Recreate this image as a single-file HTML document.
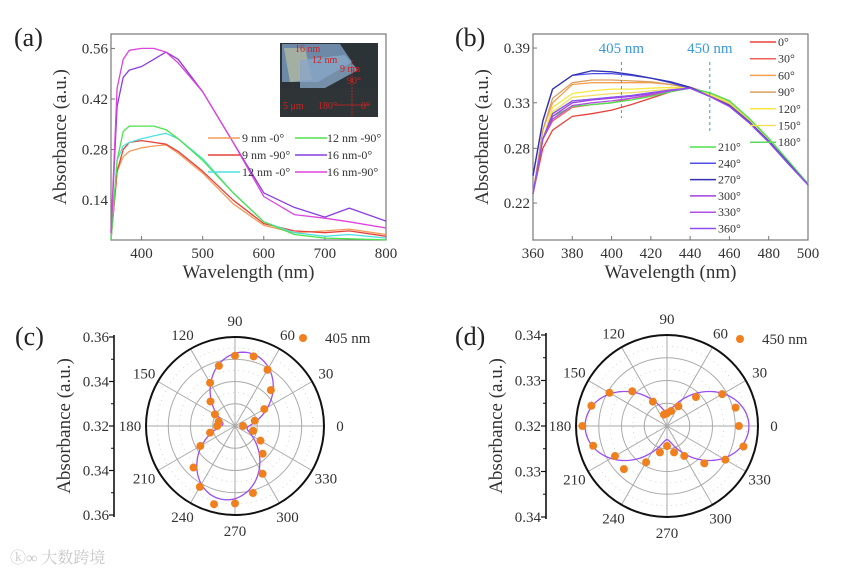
<!DOCTYPE html>
<html><head><meta charset="utf-8">
<style>
html,body{margin:0;padding:0;background:#fff;}
svg text{font-family:"Liberation Serif","Noto Serif CJK SC",serif;}
</style></head>
<body>
<svg id="fig" width="865" height="575" viewBox="0 0 865 575" xmlns="http://www.w3.org/2000/svg">
<rect width="865" height="575" fill="#fff"/>
<g id="pa"></g>
<g id="pb"></g>
<g id="pc"></g>
<g id="pd"></g>
<text x="10" y="563" font-size="16" fill="#c8c8c8" font-family="Liberation Sans, Noto Sans CJK SC, sans-serif">ⓚ∞ 大数跨境</text>
</svg>
<script>
// ---------- Panel (a) data ----------
const aNames = ["9 nm -0°","9 nm -90°","12 nm -0°","12 nm -90°","16 nm-0°","16 nm-90°"];
const aColors = ["#f39a5a","#e8403a","#4fe0e0","#4ee24e","#8a3ce0","#dd44dd"];
const aX = [350,360,370,380,400,420,440,460,500,550,600,650,700,740,800];
const a9_0  = [0.03,0.22,0.26,0.275,0.285,0.29,0.293,0.27,0.215,0.13,0.07,0.05,0.055,0.06,0.045];
const a9_90 = [0.03,0.22,0.28,0.30,0.305,0.30,0.295,0.275,0.22,0.14,0.075,0.055,0.05,0.055,0.04];
const a12_0 = [0.03,0.25,0.29,0.30,0.31,0.318,0.325,0.31,0.255,0.16,0.08,0.05,0.04,0.045,0.035];
const a12_90= [0.03,0.25,0.33,0.345,0.345,0.345,0.335,0.31,0.25,0.16,0.08,0.045,0.035,0.033,0.03];
const a16_0 = [0.05,0.40,0.48,0.50,0.51,0.53,0.55,0.53,0.44,0.30,0.16,0.12,0.093,0.118,0.082];
const a16_90= [0.05,0.45,0.53,0.555,0.56,0.56,0.55,0.52,0.44,0.30,0.15,0.10,0.09,0.08,0.063];
const aTicksX = [400,500,600,700,800];
const aTicksY = [0.14,0.28,0.42,0.56];

// ---------- Panel (b) data ----------
const bAngles = ["0°","30°","60°","90°","120°","150°","180°","210°","240°","270°","300°","330°","360°"];
const bColors = ["#e8403a","#f0605a","#f5a050","#d9a060","#f5e840","#f0e060","#60d860","#50e050","#5050e8","#3030b0","#a040e0","#b050e0","#9050f0"];
const bX = [360,365,370,380,390,400,410,420,430,440,450,460,470,480,490,500];
const b0   = [0.23,0.28,0.30,0.315,0.318,0.322,0.328,0.335,0.342,0.347,0.340,0.330,0.310,0.290,0.265,0.240];
const b30  = [0.23,0.29,0.31,0.325,0.328,0.330,0.335,0.338,0.343,0.347,0.340,0.330,0.310,0.290,0.265,0.240];
const b60  = [0.23,0.30,0.33,0.350,0.352,0.352,0.352,0.352,0.350,0.346,0.338,0.328,0.310,0.290,0.265,0.241];
const b90  = [0.23,0.30,0.335,0.352,0.355,0.355,0.354,0.353,0.350,0.346,0.338,0.328,0.310,0.290,0.265,0.241];
const b120 = [0.23,0.29,0.325,0.340,0.343,0.345,0.345,0.346,0.347,0.346,0.339,0.330,0.312,0.290,0.266,0.241];
const b150 = [0.23,0.29,0.32,0.336,0.338,0.340,0.341,0.343,0.345,0.346,0.340,0.331,0.312,0.290,0.266,0.241];
const b180 = [0.23,0.29,0.318,0.332,0.334,0.336,0.338,0.340,0.343,0.346,0.341,0.332,0.313,0.291,0.266,0.241];
const b210 = [0.23,0.29,0.315,0.326,0.328,0.330,0.333,0.337,0.342,0.346,0.341,0.332,0.313,0.291,0.266,0.241];
const b240 = [0.25,0.31,0.345,0.360,0.362,0.362,0.360,0.357,0.352,0.346,0.337,0.327,0.309,0.288,0.264,0.240];
const b270 = [0.25,0.31,0.345,0.360,0.365,0.364,0.361,0.357,0.353,0.347,0.337,0.327,0.309,0.288,0.264,0.240];
const b300 = [0.23,0.29,0.315,0.330,0.333,0.335,0.337,0.340,0.344,0.346,0.337,0.326,0.308,0.287,0.263,0.240];
const b330 = [0.23,0.29,0.312,0.327,0.330,0.332,0.335,0.339,0.343,0.346,0.337,0.326,0.308,0.287,0.263,0.240];
const b360 = [0.23,0.29,0.318,0.332,0.334,0.336,0.338,0.341,0.344,0.346,0.337,0.326,0.308,0.287,0.263,0.240];
const bTicksX = [360,380,400,420,440,460,480,500];
const bTicksY = [0.22,0.28,0.33,0.39];
const bMarks = [405,450];

// ---------- Panel (c) data ----------
const cAngles = [0,15,30,45,60,75,90,105,120,135,150,165,180,195,210,225,240,255,270,285,300,315,330,345];
const cValues = [0.3236,0.3292,0.3352,0.3428,0.3492,0.3524,0.3516,0.3480,0.3424,0.3356,0.3304,0.3276,0.3280,0.3316,0.3380,0.3464,0.3516,0.3564,0.3548,0.3512,0.3448,0.3376,0.3332,0.3284];
const cFit = [0.3255,0.0280,80]; // offset, amplitude, phase(deg)
const cTickLabels = ["0.36","0.34","0.32","0.34","0.36"];

// ---------- Panel (d) data ----------
const dAngles = [0,15,30,45,60,75,90,105,120,135,150,165,180,195,210,225,240,255,270,285,300,315,330,345];
const dValues = [0.3358,0.3356,0.3340,0.3290,0.3250,0.3234,0.3228,0.3226,0.3262,0.3308,0.3346,0.3372,0.3386,0.3368,0.3332,0.3334,0.3292,0.3260,0.3244,0.3260,0.3276,0.3316,0.3348,0.3374];
const dFit = [0.3230,0.0150,0];
const dTickLabels = ["0.34","0.33","0.32","0.33","0.34"];

const NS="http://www.w3.org/2000/svg";
function el(parent,tag,attrs,text){const e=document.createElementNS(NS,tag);for(const k in attrs)e.setAttribute(k,attrs[k]);if(text!==undefined)e.textContent=text;parent.appendChild(e);return e;}

function linePanel(g,box,xDom,yDom,xTicks,yTicks){
  const sx=v=>box.x0+(v-xDom[0])/(xDom[1]-xDom[0])*(box.x1-box.x0);
  const sy=v=>box.y1-(v-yDom[0])/(yDom[1]-yDom[0])*(box.y1-box.y0);
  const fr=el(g,'rect',{x:box.x0,y:box.y0,width:box.x1-box.x0,height:box.y1-box.y0,fill:'none',stroke:'#777','stroke-width':1.2});
  
  
  xTicks.forEach(t=>{
    const x=sx(t);
    el(g,'line',{x1:x,x2:x,y1:box.y1,y2:box.y1-4,stroke:'#777'});
    const tx=el(g,'text',{x:x,y:box.y1+18,'font-size':15,'text-anchor':'middle',fill:'#333'},String(t));
    
    
  });
  yTicks.forEach(t=>{
    const y=sy(t);
    el(g,'line',{x1:box.x0,x2:box.x0+4,y1:y,y2:y,stroke:'#777'});
    const tx=el(g,'text',{x:box.x0-3,y:y+5,'font-size':15,'text-anchor':'end',fill:'#333'},t.toFixed(2));
    
    
  });
  const xt=el(g,'text',{x:(box.x0+box.x1)/2,y:box.y1+38,'font-size':19,'text-anchor':'middle',fill:'#333'},'Wavelength (nm)');
  
  
  const cy=(box.y0+box.y1)/2;
  const yt=el(g,'text',{x:box.x0-45,y:cy,'font-size':19,'text-anchor':'middle',fill:'#333',transform:`rotate(-90 ${box.x0-45} ${cy})`},'Absorbance (a.u.)');
  
  
  return {sx,sy};
}
function drawSeries(g,s,xs,ys,color,name){
  const d=xs.map((x,i)=>(i?'L':'M')+s.sx(x).toFixed(1)+','+s.sy(ys[i]).toFixed(1)).join(' ');
  const p=el(g,'path',{d:d,fill:'none',stroke:color,'stroke-width':1.3,'stroke-linejoin':'round'});
  
  
}

(function(){
  const g=document.getElementById('pa');
  const lab=el(g,'text',{x:14,y:46,'font-size':26,fill:'#222'},'(a)');
  
  
  const s=linePanel(g,{x0:111,x1:386,y0:34,y1:240},[350,800],[0.0297,0.6],aTicksX,aTicksY);
  const series=[a9_0,a9_90,a12_0,a12_90,a16_0,a16_90];
  series.forEach((ys,i)=>drawSeries(g,s,aX,ys,aColors[i],'line-'+aNames[i].replace(/[^0-9a-z]+/gi,'-')));
  const ins=el(g,'g',{});
  
  
  el(ins,'rect',{x:280,y:43,width:98,height:74,fill:'#2b3336'});
  el(ins,'polygon',{points:'282,44 340,44 352,62 318,82 282,82',fill:'#6c8aa8'});
  el(ins,'polygon',{points:'284,48 305,48 312,80 290,82',fill:'#c9c8a0',opacity:0.6});
  el(ins,'polygon',{points:'300,60 345,55 358,70 325,88 300,88',fill:'#8aa6c6',opacity:0.8});
  el(ins,'rect',{x:280,y:88,width:98,height:29,fill:'#2f3537'});
  const it=[['16 nm',295,52],['12 nm',312,63],['9 nm',340,72],['90°',347,84],['5 μm',283,109],['180°',318,109],['0°',361,109]];
  it.forEach(t=>el(ins,'text',{x:t[1],y:t[2],'font-size':10,fill:'#d02020'},t[0]));
  el(ins,'line',{x1:352,x2:352,y1:60,y2:117,stroke:'#d02020','stroke-width':0.8,'stroke-dasharray':'2,1'});
  el(ins,'line',{x1:335,x2:370,y1:105,y2:105,stroke:'#d02020','stroke-width':0.8});
  const lx=[[208,242],[208,242],[208,242],[295,327],[295,327],[295,327]];
  const ly=[138,155,172,138,155,172];
  aNames.forEach((n,i)=>{
    const le=el(g,'g',{});
    
    
    el(le,'line',{x1:lx[i][0],x2:lx[i][0]+32,y1:ly[i],y2:ly[i],stroke:aColors[i],'stroke-width':1.5});
    el(le,'text',{x:lx[i][1],y:ly[i]+4,'font-size':12,fill:'#333'},n);
  });
})();

(function(){
  const g=document.getElementById('pb');
  const lab=el(g,'text',{x:455,y:46,'font-size':26,fill:'#222'},'(b)');
  
  
  const s=linePanel(g,{x0:533,x1:808,y0:34,y1:240},[360,500],[0.1795,0.4054],bTicksX,bTicksY);
  const series=[b0,b30,b60,b90,b120,b150,b180,b210,b240,b270,b300,b330,b360];
  series.forEach((ys,i)=>drawSeries(g,s,bX,ys,bColors[i],'line-'+bAngles[i].replace('°','deg')));
  bMarks.forEach((m,i)=>{
    const x=s.sx(m);
    const dl=el(g,'line',{x1:x,x2:x,y1:62,y2:i?132:118,stroke:'#3a9ad9','stroke-width':1,'stroke-dasharray':'3,3'});
    
    
    const t=el(g,'text',{x:x,y:53,'font-size':15,'text-anchor':'middle',fill:'#3a9ad9'},m+' nm');
    
    
  });
  bAngles.forEach((n,i)=>{
    let x0,y;
    if(i<7){x0=750;y=42+i*16.7;} else {x0=690;y=147+(i-7)*16.3;}
    const le=el(g,'g',{});
    
    
    el(le,'line',{x1:x0,x2:x0+26,y1:y,y2:y,stroke:bColors[i],'stroke-width':1.5});
    el(le,'text',{x:x0+28,y:y+4,'font-size':12,fill:'#333'},n);
  });
})();

function polarPanel(g,cfg,angles,values,fit,tickLabels){
  const cx=cfg.cx,cy=cfg.cy,R=cfg.R,r0=cfg.r0,r1=cfg.r1;
  const rs=v=>Math.max(0,(v-r0)/(r1-r0))*R;
  const pt=(a,v)=>[cx+rs(v)*Math.cos(a*Math.PI/180),cy-rs(v)*Math.sin(a*Math.PI/180)];
  [0.25,0.5,0.75].forEach(f=>el(g,'circle',{cx:cx,cy:cy,r:R*f,fill:'none',stroke:'#aaa','stroke-width':1}));
  [0.125,0.375,0.625,0.875].forEach(f=>el(g,'circle',{cx:cx,cy:cy,r:R*f,fill:'none',stroke:'#ccc','stroke-width':0.8,'stroke-dasharray':'1,4'}));
  for(let a=0;a<360;a+=30){
    el(g,'line',{x1:cx,y1:cy,x2:cx+R*Math.cos(a*Math.PI/180),y2:cy-R*Math.sin(a*Math.PI/180),stroke:'#aaa','stroke-width':1});
    const lr=R+16;
    const t=el(g,'text',{x:cx+lr*Math.cos(a*Math.PI/180),y:cy-lr*Math.sin(a*Math.PI/180)+5,'font-size':15,'text-anchor':'middle',fill:'#333'},String(a));
    
    
  }
  const oc=el(g,'circle',{cx:cx,cy:cy,r:R,fill:'none',stroke:'#111','stroke-width':2});
  
  
  let d='';
  for(let a=0;a<=360;a+=2){
    const s=Math.cos((a-fit[2])*Math.PI/180);
    const v=fit[0]+fit[1]*s*s;
    const p=pt(a,v);
    d+=(a?'L':'M')+p[0].toFixed(1)+','+p[1].toFixed(1);
  }
  const fc=el(g,'path',{d:d+'Z',fill:'none',stroke:'#9a50f0','stroke-width':1.3});
  
  
  angles.forEach((a,i)=>{
    const p=pt(a,values[i]);
    const c=el(g,'circle',{cx:p[0],cy:p[1],r:4,fill:'#f07f1e'});
    
    
  });
  const ax=cfg.ax;
  const axl=el(g,'line',{x1:ax,x2:ax,y1:cy-R-2,y2:cy+R+2,stroke:'#111','stroke-width':1.6});
  
  
  tickLabels.forEach((lab,i)=>{
    const y=cy-R+i*R/2;
    el(g,'line',{x1:ax-5,x2:ax,y1:y,y2:y,stroke:'#111','stroke-width':1.2});
    if(i<tickLabels.length-1) el(g,'line',{x1:ax-3,x2:ax,y1:y+R/4,y2:y+R/4,stroke:'#111'});
    const t=el(g,'text',{x:ax-5,y:y+5,'font-size':15,'text-anchor':'end',fill:'#333'},lab);
    
    
  });
  const yt=el(g,'text',{x:ax-44,y:cy,'font-size':19,'text-anchor':'middle',fill:'#333',transform:`rotate(-90 ${ax-44} ${cy})`},'Absorbance (a.u.)');
  
  
  const lg=el(g,'g',{});
  
  
  el(lg,'circle',{cx:cfg.lx,cy:cfg.ly,r:4,fill:'#f07f1e'});
  el(lg,'text',{x:cfg.lx+22,y:cfg.ly+5,'font-size':15,fill:'#333'},cfg.leg);
}
(function(){
  const g=document.getElementById('pc');
  const lab=el(g,'text',{x:15,y:345,'font-size':26,fill:'#222'},'(c)');
  
  
  polarPanel(g,{cx:235,cy:426,R:89,r0:0.32,r1:0.36,ax:114,lx:303,ly:338,leg:'405 nm'},cAngles,cValues,cFit,cTickLabels);
})();
(function(){
  const g=document.getElementById('pd');
  const lab=el(g,'text',{x:455,y:345,'font-size':26,fill:'#222'},'(d)');
  
  
  polarPanel(g,{cx:667,cy:426,R:91,r0:0.32,r1:0.34,ax:546,lx:740,ly:339,leg:'450 nm'},dAngles,dValues,dFit,dTickLabels);
})();
</script>
</body></html>
